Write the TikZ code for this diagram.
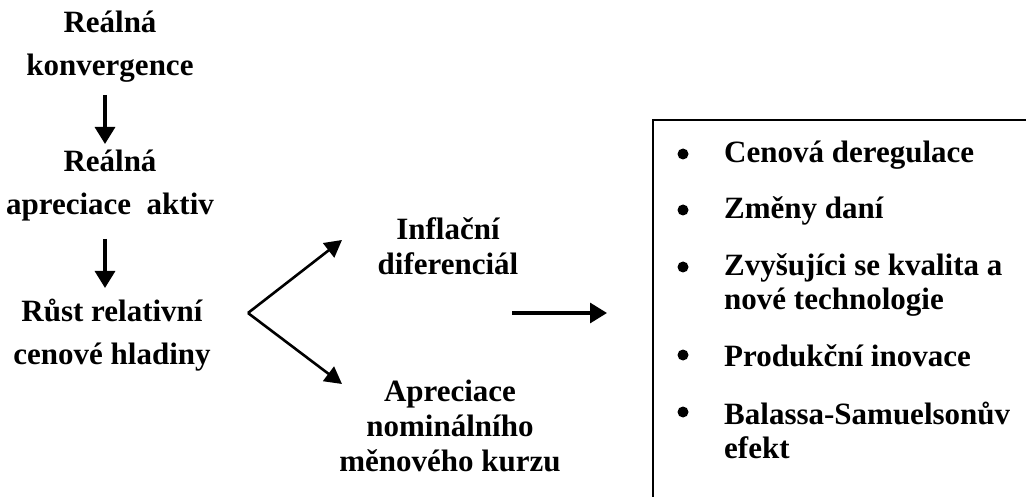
\documentclass[tikz,border=0pt]{standalone}
\usepackage{fontspec}
\setmainfont{Liberation Serif}
\usetikzlibrary{arrows.meta}
\begin{document}
\begin{tikzpicture}[x=1pt,y=-1pt,
  lbl/.style={font=\bfseries\fontsize{31}{43}\selectfont, align=center, inner sep=0pt},
  lblb/.style={font=\bfseries\fontsize{31}{35}\selectfont, align=center, inner sep=0pt},
  item/.style={font=\bfseries\fontsize{31}{34}\selectfont, align=left, anchor=west, inner sep=0pt},
  arr/.style={line width=3.2pt, -{Triangle[length=17pt,width=20pt]}},
  arrthin/.style={line width=2.6pt, -{Triangle[length=17pt,width=18pt]}},
  bul/.style={circle, fill=black, inner sep=0pt, minimum size=11pt}]
\useasboundingbox (0,0) rectangle (1026,497);
% left column
\node[lbl] (n1) at (110,47) {Reálná\\konvergence};
\node[lbl] (n2) at (110,186) {Reálná\\apreciace~~aktiv};
\node[lbl] (n3) at (112,335) {Růst relativní\\cenové hladiny};
\coordinate (a1s) at (105,95);
\coordinate (a1e) at (105,144);
\coordinate (a2s) at (105,239);
\coordinate (a2e) at (105,288);
\draw[arr] (a1s) -- (a1e);
\draw[arr] (a2s) -- (a2e);
% middle
\node[lblb] (n4) at (448,246) {Inflační\\diferenciál};
\node[lblb] (n5) at (450,426) {Apreciace\\nominálního\\měnového kurzu};
\coordinate (apex) at (248,313);
\coordinate (up) at (342,240);
\coordinate (dn) at (342,384);
\draw[arrthin, line join=round] (apex) -- (up);
\draw[arrthin, line join=round] (apex) -- (dn);
\coordinate (rs) at (512,313);
\coordinate (re) at (607,313);
\draw[arr] (rs) -- (re);
% box
\coordinate (bxr) at (1026,120);
\coordinate (bxc) at (653,120);
\coordinate (bxb) at (653,497);
\draw[line width=1.6pt] (bxr) -- (bxc) -- (bxb);
% items
\node[bul] (b1) at (683,154) {};
\node[bul] (b2) at (683,210) {};
\node[bul] (b3) at (683,267) {};
\node[bul] (b4) at (683,355) {};
\node[bul] (b5) at (683,412) {};
\node[item] (i1) at (724,155) {Cenová deregulace};
\node[item] (i2) at (724,211) {Změny daní};
\node[item] (i3) at (724,285) {Zvyšujíci se kvalita a\\nové technologie};
\node[item] (i4) at (724,356) {Produkční inovace};
\node[item] (i5) at (724,430) {Balassa-Samuelsonův\\efekt};
\end{tikzpicture}
\end{document}
